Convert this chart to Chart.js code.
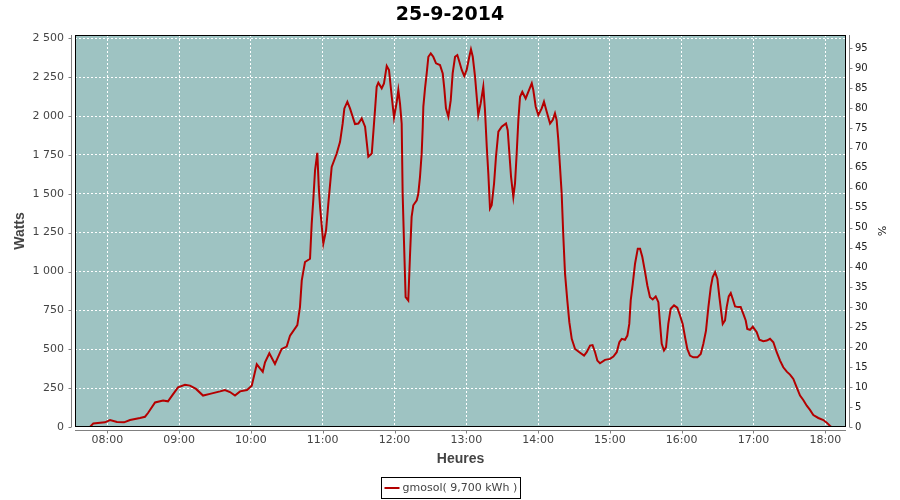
<!DOCTYPE html>
<html>
<head>
<meta charset="utf-8">
<title>25-9-2014</title>
<script src="https://cdn.jsdelivr.net/npm/chart.js@4.4.1/dist/chart.umd.min.js"></script>
<style>
  html, body { margin: 0; padding: 0; background: #fff; }
  canvas { display: block; }
</style>
</head>
<body>
<canvas id="chart" width="900" height="500"></canvas>
<script>
// heure de la mesure, en minutes depuis minuit
const minutes = [
  465.5, 468.3, 478, 482.3, 488.1, 494, 499, 507.3, 511.5, 514, 519.9, 526.6, 530.7, 534.1, 539.1,
  544.9, 549.1, 554.1, 560, 565.8, 574.2, 578.3, 582.5, 586.7, 590.9, 596.7, 600.7,
  604.9, 609.9, 611.8, 615.4, 620.1, 625.7, 629.9, 632.7, 638.8, 641, 642.5, 645.2, 649.4,
  650.8, 652.2, 653.6, 655.5, 656.7, 657.8, 660.5, 662.8, 664.7, 667.5, 671.7, 674.5, 676.7, 678.1, 680.6, 682.8,
  687, 689.8, 692.6, 695.4, 698.1, 701, 703.7, 705.1, 706.5, 709.3, 711.2, 713.5, 715.4, 717.7, 719.6, 721.9, 723.2, 724.6, 726,
  726.8, 727.9, 729.3, 731.5, 732.9, 734.3, 735.7, 738.6, 739.9, 741.3, 742.7, 743.6, 744.1, 745.5, 746.9, 748.3, 750.3,
  752.4, 754.7, 758, 760.3, 761.6, 763, 765, 767, 768.6, 770.6, 772.5, 774.2, 776.2, 778.3, 780.3, 782.5, 783.9, 785.4, 787.3, 788.7, 790,
  792, 794.2, 795.6, 797.1, 798.4, 799.8, 801.2, 803.2, 804.8, 806.8, 809.6, 813.2, 814.6, 816, 817.4, 819.3, 820.7, 822.1, 823.5, 824.9,
  826.8, 829.6, 832.4, 834.7, 836, 838, 840.2, 843, 844.9, 847.2, 850, 852.2, 854.1, 855.5, 856.9, 858.3, 859.7, 861.1, 862.5, 864.4, 866.1, 868.1,
  870.9, 874.5, 878.4, 880.6, 883.4, 885.5, 887.6, 889.5, 891.7, 895.9, 900.1, 902.9, 905.7, 907.9, 909.9, 912.6, 914.6, 916.2,
  917.4, 919.1, 921, 923.3, 925.2, 927.1, 929.4, 931.3, 933.5, 935.8, 938.3, 940.5, 941.9, 943.3, 945.2, 946.9, 948.8, 950.8,
  953.6, 956.3, 958.6, 960.8, 962.8, 964.7, 966.9, 969.7, 973.1, 975.9, 978.1, 980.3, 982.3, 984.3, 985.9, 987.9, 989.8, 991.5, 992.9, 994.3,
  996.2, 997.6, 999.3, 1001, 1002.6, 1004.6, 1007.3, 1009.3, 1011.5, 1013.5, 1014.8, 1017.1, 1019.4, 1022.7, 1024.9, 1028.2, 1031.1, 1033.8, 1036.6,
  1039.4, 1042.2, 1044.9, 1047.8, 1050.5, 1053.3, 1056.1, 1058.9, 1061.6, 1064.5, 1067.2, 1070, 1074.2, 1078.4, 1081.2, 1084, 1085.4
];
const watts = [
  0, 23, 30, 45, 32, 30, 45, 58, 66, 90, 158, 170, 165, 202, 255,
  272, 266, 245, 202, 213, 229, 238, 225, 202, 229, 238, 265,
  403, 355, 416, 474, 406, 502, 517, 588, 655, 771, 943, 1061, 1082,
  1308, 1469, 1651, 1763, 1544, 1415, 1179, 1265, 1437, 1673, 1759, 1834, 1952, 2049, 2092, 2049,
  1948, 1952, 1985, 1931, 1738, 1759, 2038, 2188, 2214, 2178, 2210, 2322, 2296, 2124, 1990, 2092, 2167, 2080, 1950,
  1501, 1200, 835, 814, 1093, 1351, 1426, 1458, 1501, 1608, 1759, 1931, 2060, 2178, 2274, 2381, 2403,
  2381, 2339, 2328, 2274, 2178, 2049, 1995, 2102, 2274, 2381, 2392, 2349, 2296, 2257, 2296, 2381, 2429, 2381, 2253, 2124, 2006,
  2081, 2188, 2038, 1802, 1630, 1405, 1426, 1566, 1738, 1899, 1931, 1952, 1909, 1759, 1608, 1479, 1566, 1759, 1974, 2124,
  2156, 2113, 2167, 2210, 2167, 2060, 2006, 2049, 2092, 2027, 1952, 1974, 2017, 1974, 1845, 1673, 1501, 1222, 986, 814, 674, 567,
  502, 481, 459, 481, 524, 527, 481, 427, 410, 432, 438, 453, 481, 545, 567, 561, 588, 663,
  814, 921, 1050, 1147, 1147, 1093, 996, 910, 835, 820, 840, 803, 663, 535, 492, 513, 663, 760,
  782, 767, 717, 663, 577, 502, 459, 448, 448, 470, 535, 620, 771, 900, 964, 996, 954, 835, 749, 663,
  685, 771, 840, 861, 825, 775, 771, 771, 728, 685, 631, 625, 646, 610, 561, 552, 556, 567, 545,
  481, 427, 384, 356, 337, 309, 255, 202, 174, 137, 110, 77, 58, 45, 28, 6, 0
];

const hourTicks = [480, 540, 600, 660, 720, 780, 840, 900, 960, 1020, 1080];
const wattTicks = [0, 250, 500, 750, 1000, 1250, 1500, 1750, 2000, 2250, 2500];
const pctTicks = [0, 5, 10, 15, 20, 25, 30, 35, 40, 45, 50, 55, 60, 65, 70, 75, 80, 85, 90, 95];

const seriesLabel = "gmosol( 9,700 kWh )";

function hhmm(v) {
  const h = Math.floor(v / 60), m = Math.round(v % 60);
  return String(h).padStart(2, "0") + ":" + String(m).padStart(2, "0");
}
function milliers(v) {
  return String(v).replace(/\B(?=(\d{3})+(?!\d))/g, " ");
}

// fond du graphe, cadre, axes décalés et légende encadrée
const cadre = {
  id: "cadre",
  beforeDraw(chart) {
    const { ctx, chartArea: a } = chart;
    ctx.save();
    ctx.fillStyle = "#9ec3c2";
    ctx.fillRect(a.left, a.top, a.right - a.left, a.bottom - a.top);
    ctx.restore();
  },
  afterDraw(chart) {
    const { ctx, chartArea: a } = chart;
    const seg = (x1, y1, x2, y2) => { ctx.beginPath(); ctx.moveTo(x1, y1); ctx.lineTo(x2, y2); ctx.stroke(); };
    ctx.save();
    ctx.lineWidth = 1;
    ctx.strokeStyle = "#000";
    ctx.strokeRect(Math.round(a.left) + 0.5, Math.round(a.top) + 0.5,
      Math.round(a.right - a.left) - 1, Math.round(a.bottom - a.top) - 1);

    ctx.strokeStyle = "#808080";
    const lx = Math.round(a.left) - 3.5, rx = Math.round(a.right) + 3.5, by = Math.round(a.bottom) + 3.5;
    seg(lx, a.top, lx, a.bottom);
    seg(rx, a.top, rx, a.bottom);
    seg(a.left, by, a.right, by);
    const yl = chart.scales.y, yr = chart.scales.y2, xs = chart.scales.x;
    yl.ticks.forEach((t, i) => { const y = Math.round(yl.getPixelForTick(i)) + 0.5; seg(lx - 3, y, lx, y); });
    yr.ticks.forEach((t, i) => { const y = Math.round(yr.getPixelForTick(i)) + 0.5; seg(rx, y, rx + 3, y); });
    xs.ticks.forEach((t, i) => { const x = Math.round(xs.getPixelForTick(i)) + 0.5; seg(x, by, x, by + 3); });

    // légende
    const ds = chart.data.datasets[0];
    ctx.font = "11px 'DejaVu Sans'";
    const tw = ctx.measureText(ds.label).width;
    const bw = Math.round(tw + 24), bh = 21;
    const bx = Math.round(chart.width / 2 - bw / 2) + 0.5, bTop = 477.5;
    ctx.strokeStyle = "#000";
    ctx.strokeRect(bx, bTop, bw, bh);
    ctx.strokeStyle = ds.borderColor;
    ctx.lineWidth = 2;
    seg(bx + 3, bTop + 10.5, bx + 18, bTop + 10.5);
    ctx.fillStyle = "#444";
    ctx.textBaseline = "middle";
    ctx.textAlign = "left";
    ctx.fillText(ds.label, bx + 21, bTop + 11);
    ctx.restore();
  }
};

const tickFont = { family: "DejaVu Sans", size: 11 };

const chart = new Chart(document.getElementById("chart").getContext("2d"), {
  type: "line",
  data: {
    datasets: [
      {
        label: seriesLabel,
        data: minutes.map((m, i) => ({ x: m, y: watts[i] })),
        borderColor: "#b40000",
        borderWidth: 2,
        pointRadius: 0,
        tension: 0,
        fill: false,
        yAxisID: "y"
      }
    ]
  },
  options: {
    responsive: false,
    animation: false,
    layout: { padding: { left: 0, right: 0, top: 0, bottom: 28 } },
    plugins: {
      legend: { display: false },
      tooltip: { enabled: false },
      title: {
        display: true,
        text: "25-9-2014",
        color: "#000",
        font: { family: "DejaVu Sans", size: 19, weight: "bold" },
        padding: { top: 4, bottom: 8.2 }
      }
    },
    scales: {
      x: {
        type: "linear",
        min: 453,
        max: 1097.3,
        afterBuildTicks: s => { s.ticks = hourTicks.map(v => ({ value: v })); },
        afterFit: s => { s.height = 45; },
        grid: { color: "#ffffff", drawTicks: false },
        border: { display: false, dash: [2, 2] },
        ticks: { autoSkip: false, maxRotation: 0, padding: 7, color: "#444", font: tickFont, callback: v => hhmm(v) },
        title: {
          display: true, text: "Heures", color: "#444",
          font: { family: "Liberation Sans", size: 14, weight: "bold" },
          padding: { top: 0, bottom: 4 }
        }
      },
      y: {
        position: "left",
        min: 0,
        max: 2521,
        afterBuildTicks: s => { s.ticks = wattTicks.map(v => ({ value: v })); },
        afterFit: s => { s.width = 75; },
        grid: { color: "#ffffff", drawTicks: false },
        border: { display: false, dash: [2, 2] },
        ticks: { autoSkip: false, padding: 11, color: "#444", font: tickFont, callback: v => milliers(v) },
        title: {
          display: true, text: "Watts", color: "#444",
          font: { family: "Liberation Sans", size: 14, weight: "bold" },
          padding: { top: 12, bottom: 0 }
        }
      },
      y2: {
        position: "right",
        min: 0,
        max: 98.3,
        afterBuildTicks: s => { s.ticks = pctTicks.map(v => ({ value: v })); },
        afterFit: s => { s.width = 54; },
        grid: { drawOnChartArea: false, drawTicks: false },
        border: { display: false },
        ticks: { autoSkip: false, padding: 9, color: "#222", font: { family: "DejaVu Sans", size: 10 } },
        title: {
          display: true, text: "%", color: "#222",
          font: { family: "DejaVu Sans", size: 11 },
          padding: { top: 13, bottom: 0 }
        }
      }
    }
  },
  plugins: [cadre]
});
</script>
</body>
</html>
